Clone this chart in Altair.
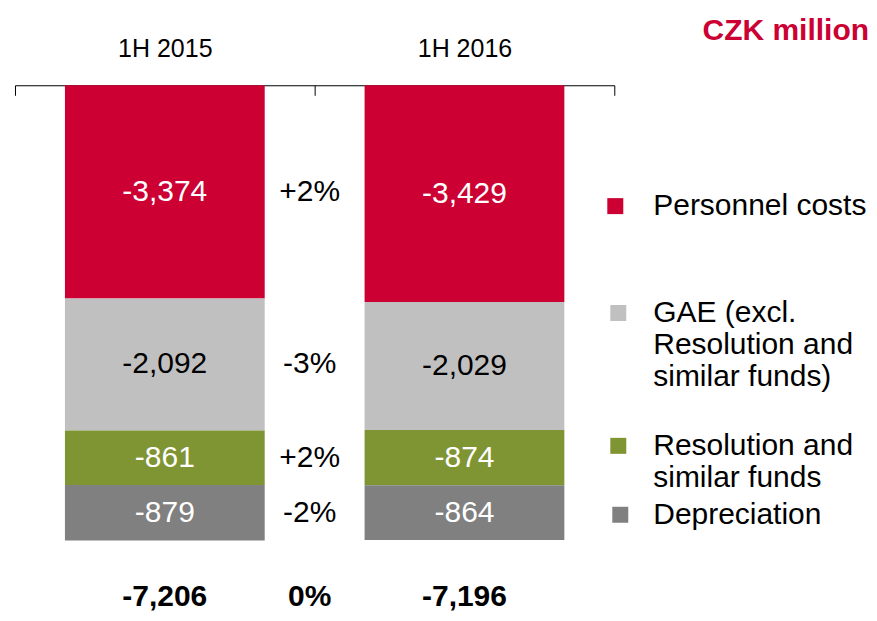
import altair as alt
import pandas as pd

periods = ["1H 2015", "1H 2016"]
categories = ["Personnel costs", "GAE (excl. Resolution and similar funds)",
              "Resolution and similar funds", "Depreciation"]
values_2015 = [-3374, -2092, -861, -879]
values_2016 = [-3429, -2029, -874, -864]
changes = ["+2%", "-3%", "+2%", "-2%"]
totals = [-7206, -7196]
total_change = "0%"
legend_lines = [["Personnel costs"],
                ["GAE (excl.", "Resolution and", "similar funds)"],
                ["Resolution and", "similar funds"],
                ["Depreciation"]]
colors = ["#CC0033", "#C0C0C0", "#7F9432", "#808080"]
label_colors = ["white", "black", "white", "white"]

FONT = "Liberation Sans"

rows = []
for p, vals in zip(periods, [values_2015, values_2016]):
    for i, (c, v) in enumerate(zip(categories, vals)):
        rows.append({"period": p, "cat": c, "order": i, "value": v,
                     "txt": f"{v:,}", "lc": label_colors[i],
                     "chg": changes[i] if p == periods[0] else ""})
df = pd.DataFrame(rows)
tot = pd.DataFrame({"period": periods, "total": totals,
                    "txt": [f"{t:,}" for t in totals],
                    "chg": [total_change, ""]})

H = 506
xscale = alt.Scale(paddingInner=0, paddingOuter=0)
xenc = alt.X("period:N", sort=periods, title=None, scale=xscale,
             axis=alt.Axis(orient="bottom", offset=-H, tickBand="extent",
                           domainColor="black", tickColor="black", tickSize=10,
                           labelFontSize=25, labelColor="black", labelFont=FONT,
                           labelBaseline="alphabetic", labelPadding=-39,
                           labelAngle=0, grid=False))
xmid = alt.X("period:N", sort=periods, title=None, scale=xscale, bandPosition=1)
yscale = alt.Scale(domain=[-8000, 0], nice=False)

base = alt.Chart(df).transform_stack(
    stack="value", groupby=["period"], as_=["y0", "y1"],
    sort=[alt.SortField("order", "ascending")]
).transform_calculate(mid="(datum.y0 + datum.y1) / 2")

legend_pos = [(586, 106, 23), (589, 213, 20), (589, 346, 20), (591, 415, 18)]

layers = []
for i, c in enumerate(categories):
    lx, ly, lo = legend_pos[i]
    expr = "[" + ", ".join("'" + s + "'" for s in legend_lines[i]) + "]"
    layers.append(
        base.transform_filter(alt.datum.cat == c).mark_bar(
            opacity=1, width=alt.RelativeBandSize(2 / 3)).encode(
            x=xenc,
            y=alt.Y("y0:Q", scale=yscale, axis=None),
            y2="y1:Q",
            color=alt.Color("cat:N", scale=alt.Scale(domain=[c], range=[colors[i]]),
                            legend=alt.Legend(orient="none", legendX=lx, legendY=ly,
                                              title=None, symbolType="square",
                                              symbolSize=256, symbolStrokeWidth=0,
                                              symbolOpacity=1,
                                              labelExpr=expr, labelFontSize=30,
                                              labelFont=FONT, labelColor="black",
                                              labelLimit=500, labelOffset=lo,
                                              padding=0))
        )
    )

bar_text = base.mark_text(fontSize=30, font=FONT, baseline="middle").encode(
    x=xenc, y=alt.Y("mid:Q", scale=yscale, axis=None),
    text="txt:N", color=alt.Color("lc:N", scale=None, legend=None))

chg_text = base.transform_filter(alt.datum.chg != "").mark_text(
    fontSize=30, font=FONT, baseline="middle", dx=-5, color="black").encode(
    x=xmid, y=alt.Y("mid:Q", scale=yscale, axis=None), text="chg:N")

tot_text = alt.Chart(tot).mark_text(fontSize=30, font=FONT, fontWeight="bold",
                                     baseline="middle", dy=57, color="black").encode(
    x=xenc, y=alt.Y("total:Q", scale=yscale, axis=None), text="txt:N")

tot_chg = alt.Chart(tot).transform_filter(alt.datum.chg != "").mark_text(
    fontSize=30, font=FONT, fontWeight="bold", baseline="middle", dy=57, dx=-5,
    color="black").encode(
    x=xmid, y=alt.Y("total:Q", scale=yscale, axis=None), text="chg:N")

chart = alt.layer(*layers, bar_text, chg_text, tot_text, tot_chg).resolve_scale(
    color="independent"
).properties(
    width=600, height=H,
    autosize=alt.AutoSizeParams(type="none"),
    padding={"left": 7, "top": 77, "right": 255, "bottom": 20},
    title=alt.TitleParams("CZK million", anchor="end", color="#CC0033",
                          fontSize=30, font=FONT, fontWeight="bold", dx=255,
                          dy=14, frame="group")
).configure(font=FONT).configure_view(stroke=None)

chart.save("out.html", embed_options={"renderer": "svg", "actions": False})
